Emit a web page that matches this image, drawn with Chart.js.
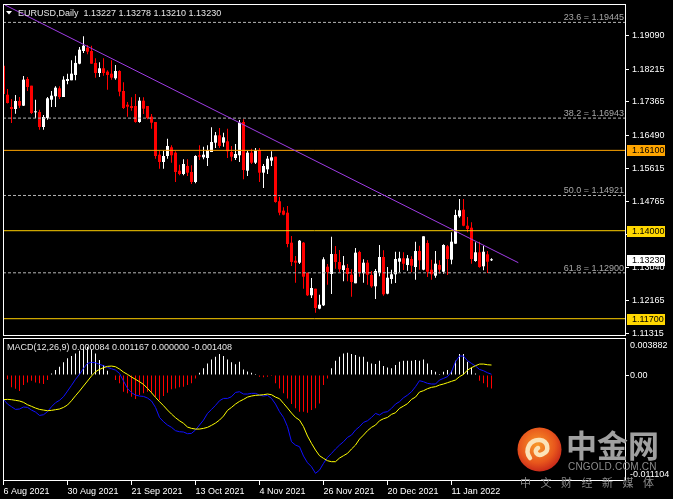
<!DOCTYPE html>
<html><head><meta charset="utf-8">
<script src="https://cdn.jsdelivr.net/npm/chart.js@4.4.1/dist/chart.umd.min.js"></script>
<style>
html,body{margin:0;padding:0;background:#000;}
#wrap{position:relative;width:673px;height:499px;overflow:hidden;background:#000;}
canvas{position:absolute;left:0;top:0;}
.wm{position:absolute;white-space:nowrap;}
</style></head><body>
<div id="wrap">
<canvas id="price" width="673" height="499"></canvas>
<canvas id="macd" width="673" height="499"></canvas>
<svg class="wm" style="left:517px;top:427px" width="45" height="45" viewBox="0 0 45 45">
 <defs><radialGradient id="lg" cx="45%" cy="40%" r="62%"><stop offset="0" stop-color="#F89A2A"/><stop offset="0.65" stop-color="#E8561C"/><stop offset="1" stop-color="#C6261A"/></radialGradient></defs>
 <circle cx="22.5" cy="22.5" r="22" fill="url(#lg)"/>
 <path d="M13 31 C 7 23, 13 12, 23 13 C 31 14, 33 24, 26 27 C 20 30, 16 24, 21 21" fill="none" stroke="#FBE3B8" stroke-width="4.5" stroke-linecap="round"/>
</svg>
<div class="wm" style="left:566px;top:428px;font:bold 31px 'Noto Sans CJK SC';line-height:31px;color:#a0a0a0;">中金网</div>
<div class="wm" style="left:568px;top:462px;font:10px 'Liberation Sans';line-height:10px;color:#8c8c8c;letter-spacing:0.2px;">CNGOLD.COM.CN</div>
<div class="wm" style="left:520px;top:476px;font:11px 'Noto Sans CJK SC';line-height:12px;color:#8a8a8a;letter-spacing:9.5px;">中文财经新媒体</div>
</div>
<script>
// ---------------- DATA ----------------
const symbol = 'EURUSD';
const timeframe = 'Daily';
const opens = [
1.18314,1.17555,1.17234,1.17182,1.17391,1.17268,1.17966,1.17791,1.17095,1.17103,
1.16711,1.16947,1.17425,1.17514,1.17723,1.17495,1.17914,1.17932,1.18071,1.18366,
1.18698,1.18784,1.18698,1.18385,1.18123,1.18246,1.18157,1.18105,1.17984,1.18175,
1.17652,1.17294,1.17260,1.17260,1.16842,1.17399,1.17260,1.16981,1.16842,1.15987,
1.15796,1.15953,1.16181,1.16040,1.15569,1.15483,1.15692,1.15535,1.15274,1.15972,
1.15919,1.15901,1.16058,1.16301,1.16494,1.16301,1.16337,1.16058,1.15901,1.15972,
1.16842,1.15569,1.16040,1.15778,1.16110,1.15517,1.15605,1.15831,1.15935,1.14770,
1.14524,1.14471,1.13687,1.13216,1.13164,1.13687,1.12903,1.12312,1.12484,1.11962,
1.12050,1.13059,1.12869,1.13392,1.13183,1.12973,1.13026,1.12850,1.12626,1.13444,
1.12887,1.13164,1.12842,1.12547,1.12895,1.13313,1.12354,1.12738,1.12861,1.13190,
1.13279,1.13104,1.13261,1.13052,1.13470,1.12981,1.13679,1.12981,1.12824,1.13104,
1.12929,1.13593,1.13243,1.13661,1.14377,1.14550,1.14131,1.14079,1.13209,1.13436,
1.13070,1.13384,1.13227];
const highs = [
1.18385,1.17704,1.17443,1.17547,1.17495,1.18045,1.18018,1.17791,1.17425,1.17164,
1.17025,1.17495,1.17652,1.17775,1.17775,1.18037,1.18105,1.18455,1.18575,1.18803,
1.19082,1.18855,1.18836,1.18507,1.18403,1.18507,1.18194,1.18455,1.18332,1.18194,
1.17880,1.17365,1.17488,1.17574,1.17488,1.17488,1.17260,1.17051,1.16842,1.16092,
1.16092,1.16405,1.16233,1.16077,1.15726,1.15867,1.15867,1.15710,1.15972,1.16233,
1.16196,1.16233,1.16707,1.16581,1.16685,1.16562,1.16667,1.16215,1.16267,1.16894,
1.16912,1.16092,1.16144,1.16163,1.16163,1.15744,1.15953,1.16076,1.15935,1.14890,
1.14612,1.14646,1.13862,1.13339,1.13757,1.13705,1.12903,1.12764,1.12484,1.12328,
1.13305,1.13130,1.13844,1.13601,1.13496,1.13339,1.13130,1.12992,1.13548,1.13478,
1.13253,1.13235,1.12947,1.12999,1.13627,1.13488,1.13052,1.12981,1.13451,1.13451,
1.13436,1.13365,1.13331,1.13713,1.13608,1.13854,1.13749,1.13242,1.13470,1.13227,
1.13645,1.13627,1.13959,1.14550,1.14829,1.14829,1.14359,1.14220,1.13697,1.13713,
1.13608,1.13470,1.13278];
const lows = [
1.17547,1.17326,1.16816,1.17059,1.17208,1.17260,1.17652,1.17051,1.16946,1.16641,
1.16641,1.16902,1.17234,1.17234,1.17443,1.17495,1.17827,1.17932,1.17932,1.18350,
1.18646,1.18612,1.18366,1.18000,1.18018,1.18052,1.17686,1.17948,1.17948,1.17514,
1.17182,1.16981,1.17137,1.16824,1.16824,1.17051,1.16912,1.16667,1.15884,1.15621,
1.15621,1.15884,1.15778,1.15274,1.15449,1.15449,1.15430,1.15221,1.15240,1.15849,
1.15867,1.15692,1.16058,1.16163,1.16163,1.16196,1.15901,1.15815,1.15849,1.15796,
1.15344,1.15430,1.15744,1.15744,1.15274,1.15117,1.15483,1.15692,1.14733,1.14403,
1.14403,1.13566,1.13078,1.12641,1.13130,1.12484,1.12294,1.12241,1.11857,1.11946,
1.12032,1.12589,1.12346,1.13007,1.12921,1.12678,1.12678,1.12275,1.12626,1.12798,
1.12641,1.12589,1.12511,1.12215,1.12808,1.12302,1.12338,1.12615,1.12633,1.12913,
1.12970,1.12952,1.12913,1.12720,1.12981,1.12965,1.12790,1.12720,1.12772,1.12877,
1.12877,1.12842,1.13122,1.13661,1.14340,1.14116,1.13959,1.13138,1.13190,1.13033,
1.12965,1.12895,1.13210];
const closes = [
1.17573,1.17339,1.17182,1.17391,1.17268,1.17948,1.17757,1.17077,1.17103,1.16711,
1.16973,1.17461,1.17530,1.17739,1.17495,1.17948,1.17966,1.18105,1.18385,1.18732,
1.18836,1.18680,1.18366,1.18123,1.18246,1.18123,1.18071,1.18000,1.18175,1.17634,
1.17208,1.17242,1.17208,1.16842,1.17399,1.17190,1.16946,1.16824,1.15953,1.15796,
1.15953,1.16215,1.15972,1.15535,1.15483,1.15744,1.15517,1.15274,1.15953,1.15935,
1.15987,1.16110,1.16319,1.16494,1.16215,1.16442,1.16076,1.15935,1.16005,1.16824,
1.15587,1.16040,1.15778,1.16092,1.15517,1.15692,1.15883,1.15919,1.14751,1.14471,
1.14419,1.13653,1.13183,1.13164,1.13739,1.12798,1.12312,1.12503,1.11980,1.12066,
1.13253,1.12921,1.13392,1.13183,1.12992,1.13096,1.12869,1.12660,1.13426,1.12903,
1.13164,1.12850,1.12547,1.12947,1.13313,1.12338,1.12772,1.12861,1.13261,1.13279,
1.13138,1.13279,1.13086,1.13470,1.13227,1.13854,1.12929,1.12861,1.13138,1.12981,
1.13627,1.13261,1.13713,1.14411,1.14534,1.14131,1.14045,1.13261,1.13436,1.13052,
1.13451,1.13190,1.13230];
const macdLine = [
-0.00255,-0.00304,-0.00332,-0.00360,-0.00356,-0.00335,-0.00339,-0.00367,-0.00388,-0.00423,
-0.00416,-0.00384,-0.00332,-0.00290,-0.00265,-0.00227,-0.00168,-0.00108,-0.00045,0.00007,
0.00070,0.00122,0.00133,0.00129,0.00112,0.00098,0.00080,0.00066,0.00052,0.00017,
-0.00063,-0.00140,-0.00185,-0.00210,-0.00220,-0.00224,-0.00241,-0.00272,-0.00339,-0.00444,
-0.00489,-0.00524,-0.00548,-0.00583,-0.00594,-0.00597,-0.00615,-0.00611,-0.00576,-0.00524,
-0.00472,-0.00402,-0.00360,-0.00318,-0.00269,-0.00245,-0.00245,-0.00227,-0.00182,-0.00175,
-0.00199,-0.00199,-0.00192,-0.00192,-0.00210,-0.00220,-0.00213,-0.00245,-0.00304,-0.00384,
-0.00444,-0.00541,-0.00699,-0.00734,-0.00751,-0.00849,-0.00919,-0.00961,-0.01030,-0.00996,
-0.00926,-0.00863,-0.00821,-0.00775,-0.00734,-0.00699,-0.00653,-0.00629,-0.00576,-0.00541,
-0.00496,-0.00479,-0.00444,-0.00402,-0.00419,-0.00391,-0.00384,-0.00349,-0.00304,-0.00279,
-0.00238,-0.00210,-0.00175,-0.00122,-0.00059,-0.00070,-0.00087,-0.00094,-0.00094,-0.00052,
-0.00035,-0.00017,0.00035,0.00140,0.00199,0.00199,0.00150,0.00122,0.00094,0.00059,
0.00045,0.00024,0.00008];
const signalLine = [
-0.00258,-0.00255,-0.00258,-0.00265,-0.00272,-0.00286,-0.00311,-0.00328,-0.00346,-0.00360,
-0.00367,-0.00374,-0.00370,-0.00363,-0.00356,-0.00339,-0.00314,-0.00269,-0.00217,-0.00168,
-0.00115,-0.00063,-0.00010,0.00035,0.00059,0.00077,0.00091,0.00094,0.00087,0.00063,
0.00031,0.00007,-0.00021,-0.00045,-0.00070,-0.00098,-0.00140,-0.00185,-0.00234,-0.00279,
-0.00321,-0.00367,-0.00409,-0.00447,-0.00479,-0.00506,-0.00545,-0.00559,-0.00566,-0.00566,
-0.00559,-0.00548,-0.00527,-0.00503,-0.00472,-0.00430,-0.00370,-0.00339,-0.00304,-0.00276,
-0.00255,-0.00231,-0.00220,-0.00213,-0.00210,-0.00206,-0.00199,-0.00206,-0.00231,-0.00248,
-0.00297,-0.00346,-0.00398,-0.00444,-0.00472,-0.00541,-0.00639,-0.00716,-0.00786,-0.00845,
-0.00873,-0.00898,-0.00908,-0.00908,-0.00870,-0.00845,-0.00821,-0.00775,-0.00734,-0.00671,
-0.00629,-0.00583,-0.00548,-0.00524,-0.00479,-0.00458,-0.00444,-0.00412,-0.00395,-0.00349,
-0.00325,-0.00300,-0.00255,-0.00231,-0.00178,-0.00164,-0.00143,-0.00129,-0.00122,-0.00105,
-0.00094,-0.00080,-0.00066,-0.00052,-0.00017,0.00007,0.00052,0.00077,0.00098,0.00115,
0.00115,0.00108,0.00105];
const histogram = [
0.00052,-0.00045,-0.00129,-0.00143,-0.00168,-0.00105,-0.00077,-0.00059,-0.00077,-0.00087,
-0.00094,-0.00052,0.00017,0.00052,0.00087,0.00133,0.00175,0.00199,0.00227,0.00255,
0.00290,0.00297,0.00269,0.00227,0.00157,0.00105,0.00045,0.00007,-0.00052,-0.00087,
-0.00175,-0.00192,-0.00227,-0.00251,-0.00210,-0.00192,-0.00175,-0.00192,-0.00227,-0.00262,
-0.00220,-0.00185,-0.00150,-0.00140,-0.00129,-0.00122,-0.00105,-0.00087,-0.00035,0.00024,
0.00070,0.00122,0.00164,0.00192,0.00220,0.00199,0.00164,0.00133,0.00112,0.00140,
0.00059,0.00038,0.00024,0.00010,-0.00017,-0.00024,-0.00017,-0.00010,-0.00087,-0.00140,
-0.00192,-0.00245,-0.00304,-0.00349,-0.00384,-0.00384,-0.00395,-0.00367,-0.00349,-0.00297,
-0.00105,-0.00035,0.00070,0.00150,0.00192,0.00227,0.00234,0.00220,0.00210,0.00192,
0.00192,0.00140,0.00122,0.00115,0.00150,0.00094,0.00080,0.00070,0.00105,0.00140,
0.00150,0.00150,0.00150,0.00157,0.00150,0.00164,0.00122,0.00052,0.00035,0.00010,
0.00035,0.00052,0.00045,0.00150,0.00220,0.00220,0.00140,0.00080,0.00017,-0.00059,
-0.00087,-0.00129,-0.00140];
const priceTicks = [1.19090,1.18215,1.17365,1.16490,1.15615,1.14765,1.13890,1.13040,1.12165,1.11315];
const macdTicks = [0.003882, 0, -0.011104];
const macdTickLabels = ['0.003882','0.00','-0.011104'];
const dateTickBars = [0,16,32,48,64,80,96,112];
const dateTickLabels = ['6 Aug 2021','30 Aug 2021','21 Sep 2021','13 Oct 2021','4 Nov 2021','26 Nov 2021','20 Dec 2021','11 Jan 2022'];
const fibRatios = ['23.6','38.2','50.0','61.8'];
const fibPrices = [1.19445,1.16943,1.14921,1.12900];
const levelPrices = [1.16100,1.14000,1.11700];
const trendBars = [0.375, 128.7];
const trendPrices = [1.19900, 1.13164];
const macdParams = [12,26,9];
const macdLegend = ['0.000084','0.001167','0.000000','-0.001408'];

// ---------------- STYLE ----------------
const FONT = "'Liberation Sans', Arial, sans-serif";
Chart.defaults.font.family = FONT;
Chart.defaults.font.size = 9;
Chart.defaults.color = '#FFFFFF';
const X_MIN = -0.125, X_MAX = 155.625;
const PRICE_MIN = 1.11248, PRICE_MAX = 1.19926;
const MACD_MIN = macdTicks[macdTicks.length-1], MACD_MAX = macdTicks[0];
const levelLineColors = ['#FFA500','#FFD000','#FFD000'];
const levelBoxColors = ['#FFA500','#FFD700','#FFD700'];
const UP = '#FFFFFF', DOWN = '#FF0000';

const idx = closes.map((_, i) => i);
const candleCol = idx.map(i => closes[i] >= opens[i] ? UP : DOWN);
const hline = p => [{x: X_MIN, y: p}, {x: X_MAX, y: p}];

const pricePlugin = {
  id: 'priceOverlay',
  afterDraw(chart) {
    const {ctx, chartArea: ca} = chart;
    const y = chart.scales.y;
    ctx.save();
    ctx.strokeStyle = '#FFFFFF'; ctx.lineWidth = 1;
    ctx.strokeRect(ca.left + 0.5, ca.top + 0.5, ca.right - ca.left - 1, ca.bottom - ca.top - 1);
    ctx.font = '9px ' + FONT;
    ctx.fillStyle = '#A8A8A8'; ctx.textAlign = 'right'; ctx.textBaseline = 'alphabetic';
    fibPrices.forEach((p, i) => {
      const py = y.getPixelForValue(p);
      ctx.fillText(fibRatios[i] + ' = ' + p.toFixed(5), ca.right - 2, py - 2);
    });
    const boxes = levelPrices.map((p, i) => ({p, bg: levelBoxColors[i]}));
    boxes.push({p: closes[closes.length - 1], bg: '#FFFFFF'});
    ctx.textAlign = 'left'; ctx.textBaseline = 'middle';
    boxes.forEach(b => {
      const py = Math.round(y.getPixelForValue(b.p));
      ctx.fillStyle = b.bg;
      ctx.fillRect(ca.right + 1, py - 5, 38, 11);
      ctx.fillStyle = '#000000';
      ctx.fillText(b.p.toFixed(5), ca.right + 6, py + 0.5);
    });
    const L = closes.length - 1;
    ctx.fillStyle = '#FFFFFF';
    ctx.beginPath(); ctx.moveTo(ca.left + 3, ca.top + 7); ctx.lineTo(ca.left + 9, ca.top + 7); ctx.lineTo(ca.left + 6, ca.top + 10.5); ctx.closePath(); ctx.fill();
    ctx.fillStyle = '#E6E6E6'; ctx.textBaseline = 'alphabetic';
    ctx.fillText(symbol + ',' + timeframe + '  ' + [opens[L], highs[L], lows[L], closes[L]].map(v => v.toFixed(5)).join(' '), ca.left + 15, ca.top + 12);
    ctx.restore();
  }
};

new Chart(document.getElementById('price'), {
  type: 'bar',
  data: { datasets: [
    {type: 'line', data: trendBars.map((b, i) => ({x: b, y: trendPrices[i]})), borderColor: '#A03CE6', borderWidth: 1, pointRadius: 0, order: 0},
    ...levelPrices.map((p, i) => ({type: 'line', data: hline(p), borderColor: levelLineColors[i], borderWidth: 1, pointRadius: 0, order: 1})),
    ...fibPrices.map(p => ({type: 'line', data: hline(p), borderColor: '#B4B4B4', borderWidth: 1, borderDash: [3, 2], pointRadius: 0, order: 1})),
    {type: 'bar', data: idx.map(i => ({x: i, y: [opens[i], closes[i]]})), backgroundColor: candleCol, barThickness: 3, minBarLength: 1, grouped: false, inflateAmount: 0, borderWidth: 0, order: 2},
    {type: 'bar', data: idx.map(i => ({x: i, y: [lows[i], highs[i]]})), backgroundColor: candleCol, barThickness: 1, grouped: false, inflateAmount: 0, borderWidth: 0, order: 3}
  ]},
  options: {
    responsive: false, animation: false, devicePixelRatio: 1, events: [],
    layout: {padding: {left: 3, top: 4, right: 0, bottom: 163}},
    plugins: {legend: {display: false}, tooltip: {enabled: false}},
    scales: {
      x: {type: 'linear', min: X_MIN, max: X_MAX, display: false, offset: false, grid: {offset: false}},
      y: {type: 'linear', position: 'right', min: PRICE_MIN, max: PRICE_MAX,
        afterBuildTicks: s => { s.ticks = priceTicks.map(v => ({value: v})); },
        afterFit: s => { s.width = 47; s.paddingTop = 0; s.paddingBottom = 0; },
        ticks: {color: '#FFFFFF', font: {size: 9}, padding: 3, callback: v => Number(v).toFixed(5)},
        grid: {drawOnChartArea: false, drawTicks: true, tickLength: 3, color: '#FFFFFF', offset: false},
        border: {display: false}}
    }
  },
  plugins: [pricePlugin]
});

const macdPlugin = {
  id: 'macdOverlay',
  afterDraw(chart) {
    const {ctx, chartArea: ca} = chart;
    const y = chart.scales.y;
    ctx.save();
    ctx.strokeStyle = '#FFFFFF'; ctx.lineWidth = 1;
    ctx.strokeRect(ca.left + 0.5, ca.top + 0.5, ca.right - ca.left - 1, ca.bottom - ca.top - 1);
    ctx.font = '9px ' + FONT;
    ctx.fillStyle = '#E6E6E6'; ctx.textAlign = 'left'; ctx.textBaseline = 'alphabetic';
    ctx.fillText('MACD(' + macdParams.join(',') + ') ' + macdLegend.join(' '), ca.left + 4, ca.top + 12);
    ctx.fillStyle = '#FFFFFF'; ctx.textBaseline = 'middle';
    macdTicks.forEach((v, i) => {
      let py = y.getPixelForValue(v);
      py = Math.min(Math.max(py, ca.top + 7.5), ca.bottom - 6.5);
      ctx.fillText(macdTickLabels[i], ca.right + 4, py);
    });
    ctx.restore();
  }
};

new Chart(document.getElementById('macd'), {
  type: 'bar',
  data: { datasets: [
    {type: 'line', data: idx.map(i => ({x: i, y: signalLine[i]})), borderColor: '#FFFF00', borderWidth: 1, pointRadius: 0, order: 0},
    {type: 'line', data: idx.map(i => ({x: i, y: macdLine[i]})), borderColor: '#1010FF', borderWidth: 1, pointRadius: 0, order: 1},
    {type: 'bar', data: idx.map(i => ({x: i, y: histogram[i]})), backgroundColor: histogram.map(v => v >= 0 ? '#FFFFFF' : '#FF0000'), barThickness: 1, grouped: false, inflateAmount: 0, borderWidth: 0, order: 2}
  ]},
  options: {
    responsive: false, animation: false, devicePixelRatio: 1, events: [],
    layout: {padding: {left: 3, top: 338, right: 0, bottom: 0}},
    plugins: {legend: {display: false}, tooltip: {enabled: false}},
    scales: {
      x: {type: 'linear', min: X_MIN, max: X_MAX, offset: false, position: 'bottom',
        afterBuildTicks: s => { s.ticks = dateTickBars.map(v => ({value: v})); },
        afterFit: s => { s.height = 18; s.paddingLeft = 0; s.paddingRight = 0; },
        ticks: {autoSkip: false, maxRotation: 0, minRotation: 0, align: 'start', padding: 1, color: '#FFFFFF', font: {size: 9},
          callback: v => dateTickLabels[dateTickBars.indexOf(v)]},
        grid: {drawOnChartArea: false, drawTicks: true, tickLength: 4, color: '#FFFFFF', offset: false},
        border: {display: false}},
      y: {type: 'linear', position: 'right', min: MACD_MIN, max: MACD_MAX,
        afterBuildTicks: s => { s.ticks = [{value: macdTicks[1]}]; },
        afterFit: s => { s.width = 47; s.paddingTop = 0; s.paddingBottom = 0; },
        ticks: {display: false},
        grid: {drawOnChartArea: false, drawTicks: true, tickLength: 3, color: '#FFFFFF', offset: false},
        border: {display: false}}
    }
  },
  plugins: [macdPlugin]
});
</script>
</body></html>
